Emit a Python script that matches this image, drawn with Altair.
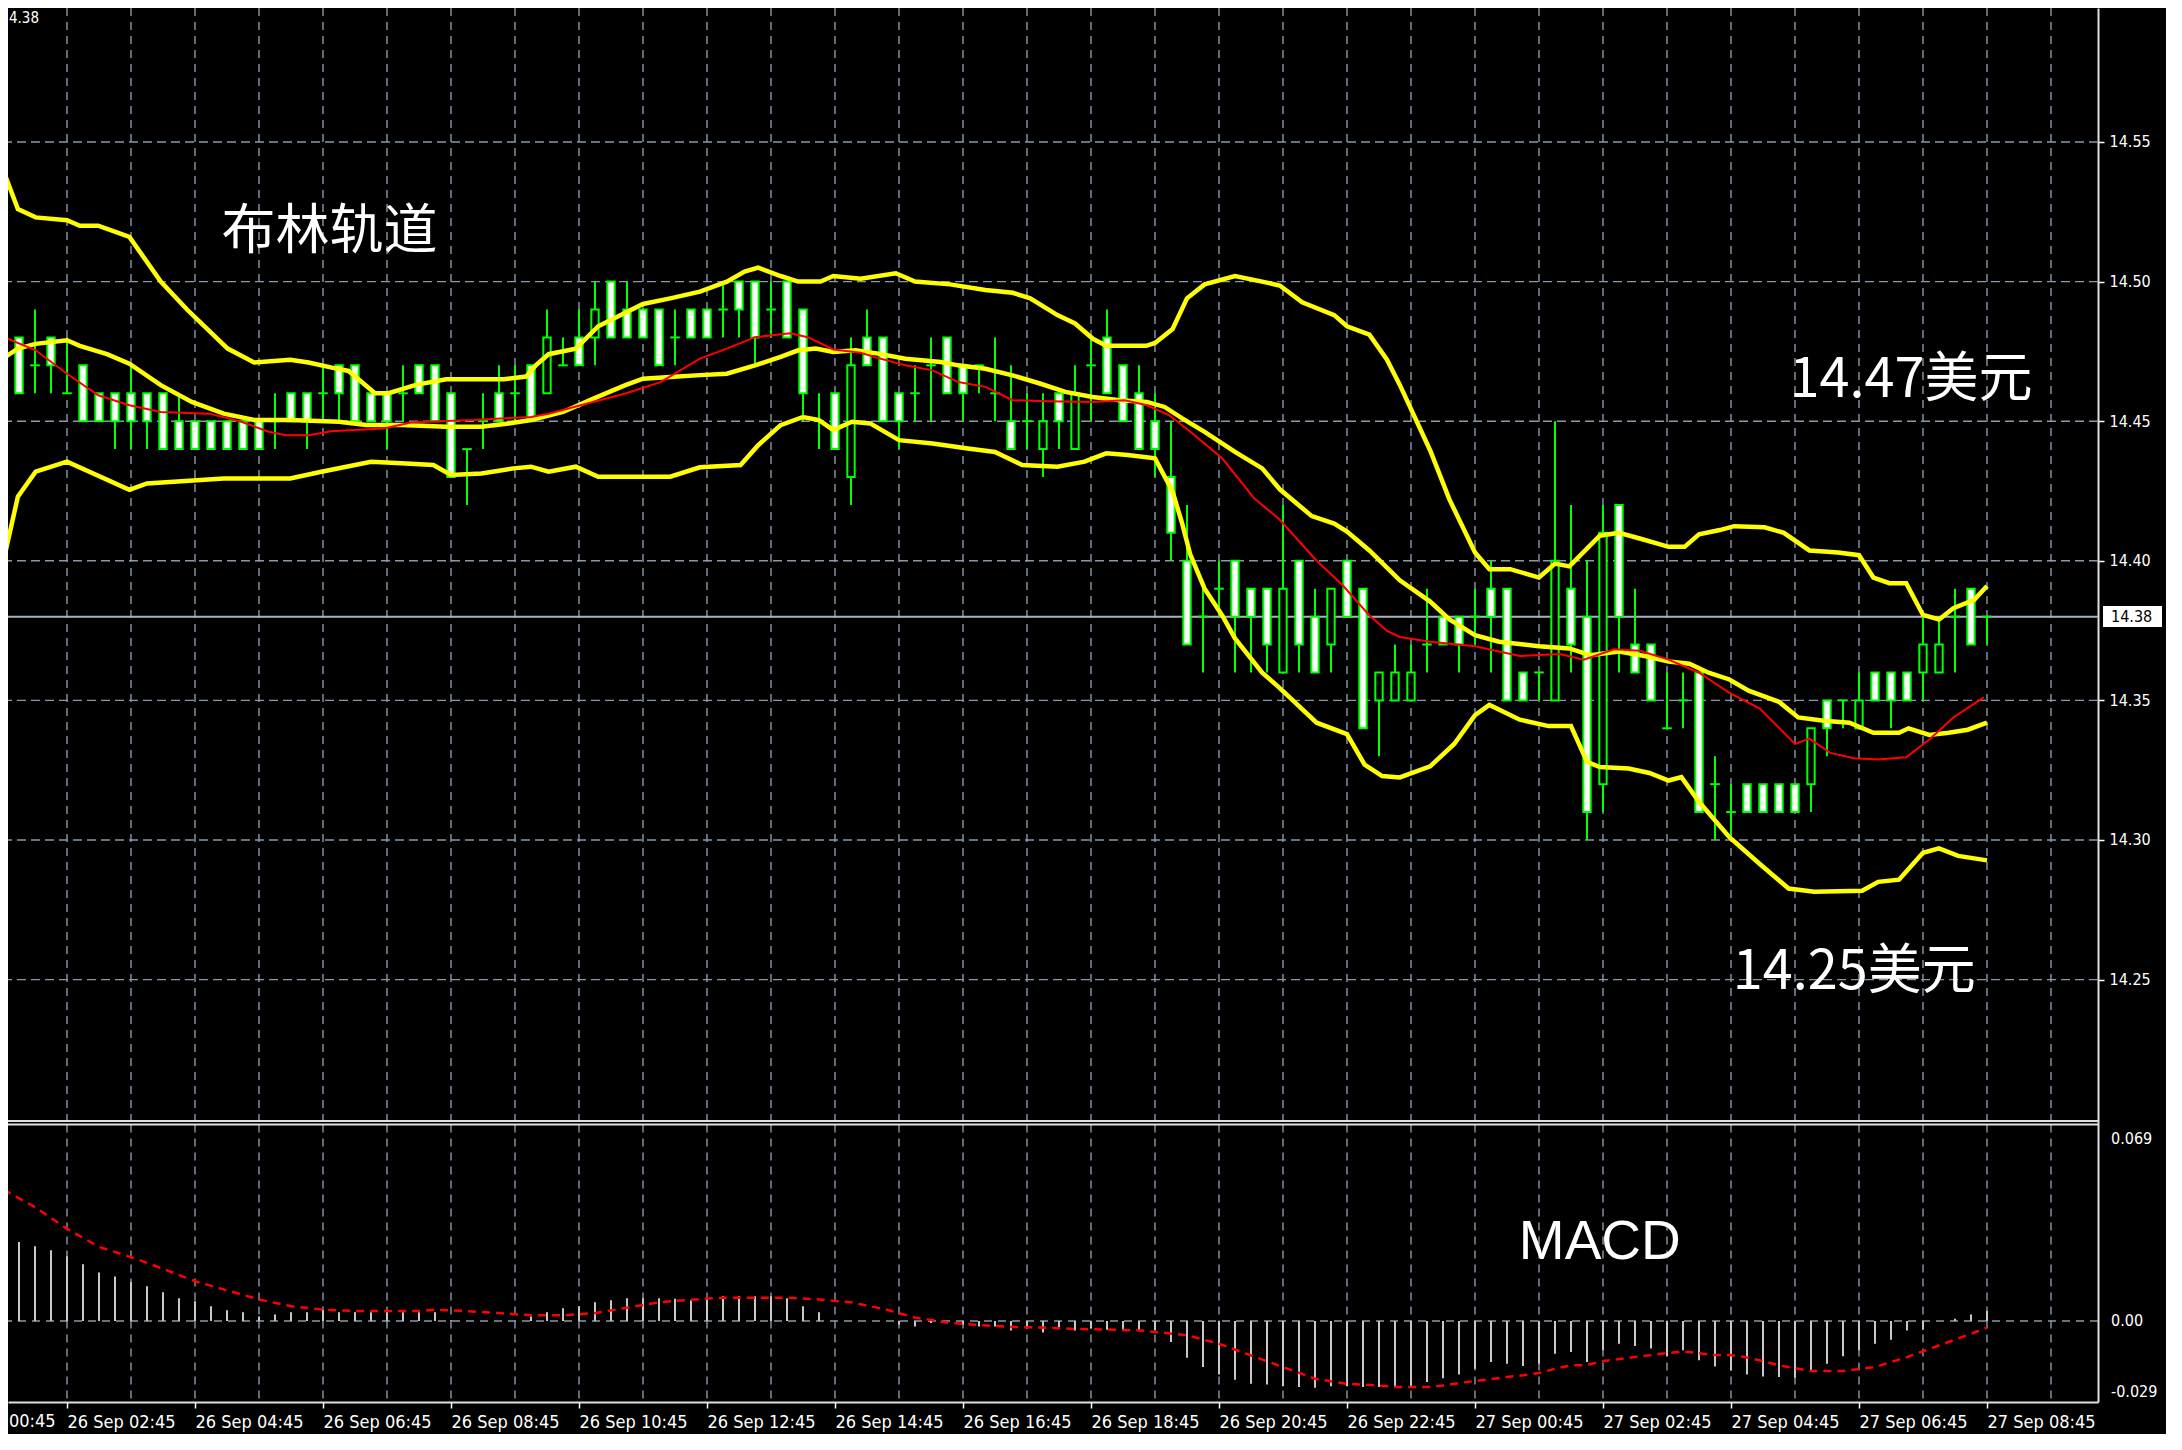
import json
import altair as alt
import pandas as pd

# ---------------- data (M15 bars, 26 Sep 01:45 -> 27 Sep 08:45) -------------
bars = list(range(125))
opens = [
    14.48, 14.48, 14.47, 14.48, 14.46, 14.47, 14.46, 14.46, 14.46, 14.46,
    14.46, 14.45, 14.45, 14.45, 14.45, 14.45, 14.45, 14.45, 14.46, 14.46,
    14.46, 14.47, 14.47, 14.46, 14.46, 14.46, 14.47, 14.47, 14.46, 14.44,
    14.45, 14.46, 14.46, 14.47, 14.46, 14.47, 14.48, 14.48, 14.50, 14.49,
    14.49, 14.49, 14.48, 14.49, 14.49, 14.49, 14.50, 14.50, 14.49, 14.50,
    14.49, 14.45, 14.46, 14.43, 14.48, 14.48, 14.46, 14.46, 14.47, 14.48,
    14.47, 14.47, 14.46, 14.45, 14.45, 14.44, 14.46, 14.44, 14.47, 14.48,
    14.47, 14.46, 14.45, 14.43, 14.40, 14.38, 14.39, 14.40, 14.39, 14.39,
    14.36, 14.40, 14.38, 14.37, 14.40, 14.39, 14.35, 14.35, 14.35, 14.37,
    14.38, 14.38, 14.38, 14.39, 14.39, 14.36, 14.36, 14.35, 14.39, 14.38,
    14.32, 14.42, 14.37, 14.37, 14.34, 14.35, 14.36, 14.32, 14.31, 14.32,
    14.32, 14.32, 14.32, 14.32, 14.35, 14.35, 14.34, 14.36, 14.36, 14.36,
    14.36, 14.36, 14.38, 14.39, 14.38]
highs = [
    14.49, 14.48, 14.49, 14.48, 14.48, 14.47, 14.46, 14.46, 14.47, 14.46,
    14.46, 14.46, 14.45, 14.45, 14.45, 14.45, 14.45, 14.46, 14.46, 14.46,
    14.47, 14.47, 14.47, 14.46, 14.46, 14.47, 14.47, 14.47, 14.46, 14.44,
    14.46, 14.47, 14.47, 14.47, 14.49, 14.48, 14.49, 14.50, 14.50, 14.50,
    14.49, 14.49, 14.49, 14.49, 14.49, 14.50, 14.50, 14.50, 14.50, 14.50,
    14.49, 14.46, 14.46, 14.48, 14.49, 14.48, 14.46, 14.47, 14.48, 14.48,
    14.47, 14.47, 14.48, 14.47, 14.46, 14.46, 14.46, 14.47, 14.48, 14.49,
    14.47, 14.47, 14.46, 14.45, 14.42, 14.39, 14.40, 14.40, 14.39, 14.39,
    14.42, 14.40, 14.39, 14.39, 14.40, 14.39, 14.36, 14.37, 14.37, 14.39,
    14.38, 14.38, 14.39, 14.40, 14.39, 14.36, 14.36, 14.45, 14.42, 14.40,
    14.42, 14.42, 14.39, 14.37, 14.36, 14.36, 14.36, 14.33, 14.32, 14.32,
    14.32, 14.32, 14.32, 14.34, 14.35, 14.35, 14.36, 14.36, 14.36, 14.36,
    14.38, 14.38, 14.39, 14.39, 14.38]
lows = [
    14.44, 14.46, 14.46, 14.46, 14.46, 14.45, 14.45, 14.44, 14.44, 14.44,
    14.44, 14.44, 14.44, 14.44, 14.44, 14.44, 14.44, 14.44, 14.45, 14.44,
    14.45, 14.45, 14.45, 14.45, 14.44, 14.45, 14.46, 14.45, 14.43, 14.42,
    14.44, 14.45, 14.45, 14.45, 14.46, 14.47, 14.47, 14.47, 14.48, 14.48,
    14.48, 14.47, 14.47, 14.48, 14.48, 14.48, 14.48, 14.47, 14.48, 14.48,
    14.45, 14.44, 14.44, 14.42, 14.47, 14.45, 14.44, 14.45, 14.45, 14.46,
    14.45, 14.46, 14.45, 14.44, 14.44, 14.43, 14.44, 14.44, 14.45, 14.46,
    14.45, 14.44, 14.43, 14.40, 14.37, 14.36, 14.38, 14.36, 14.36, 14.36,
    14.36, 14.36, 14.36, 14.36, 14.38, 14.34, 14.33, 14.35, 14.35, 14.36,
    14.37, 14.36, 14.37, 14.36, 14.35, 14.35, 14.35, 14.35, 14.36, 14.30,
    14.31, 14.36, 14.36, 14.35, 14.34, 14.34, 14.31, 14.30, 14.30, 14.31,
    14.31, 14.31, 14.31, 14.31, 14.33, 14.34, 14.34, 14.35, 14.34, 14.35,
    14.35, 14.36, 14.36, 14.37, 14.37]
closes = [
    14.45, 14.46, 14.47, 14.47, 14.46, 14.45, 14.45, 14.45, 14.45, 14.45,
    14.44, 14.44, 14.44, 14.44, 14.44, 14.44, 14.44, 14.45, 14.45, 14.45,
    14.46, 14.46, 14.45, 14.45, 14.45, 14.46, 14.46, 14.45, 14.43, 14.44,
    14.45, 14.45, 14.46, 14.45, 14.48, 14.47, 14.47, 14.49, 14.48, 14.48,
    14.48, 14.47, 14.48, 14.48, 14.48, 14.49, 14.49, 14.48, 14.49, 14.48,
    14.46, 14.45, 14.44, 14.47, 14.47, 14.45, 14.45, 14.46, 14.47, 14.46,
    14.46, 14.47, 14.46, 14.44, 14.45, 14.45, 14.45, 14.46, 14.47, 14.46,
    14.45, 14.44, 14.44, 14.41, 14.37, 14.38, 14.39, 14.38, 14.38, 14.37,
    14.39, 14.37, 14.36, 14.39, 14.38, 14.34, 14.36, 14.36, 14.36, 14.37,
    14.37, 14.37, 14.38, 14.38, 14.35, 14.35, 14.36, 14.40, 14.37, 14.31,
    14.41, 14.38, 14.36, 14.35, 14.34, 14.35, 14.31, 14.32, 14.31, 14.31,
    14.31, 14.31, 14.31, 14.34, 14.34, 14.35, 14.35, 14.35, 14.35, 14.35,
    14.37, 14.37, 14.38, 14.37, 14.38]

# Bollinger bands and red moving average, read as (bar, price) points
upper_band = [
    (-0.19, 14.543), (0.93, 14.526), (2.04, 14.523), (4.0, 14.522), (4.8, 14.520), (5.95, 14.520),
    (7.9, 14.516), (9.86, 14.500), (11.5, 14.490), (14.04, 14.476), (15.7, 14.471), (17.95, 14.472),
    (19.1, 14.471), (20.7, 14.469), (21.6, 14.468), (23.25, 14.460), (24.1, 14.460), (25.8, 14.463),
    (27.7, 14.465), (31.3, 14.465), (32.7, 14.466), (33.3, 14.470), (34.1, 14.474), (35.8, 14.476),
    (37.2, 14.484), (40.0, 14.492), (41.7, 14.494), (43.56, 14.4964), (45.24, 14.500), (46.35, 14.5036),
    (47.2, 14.505), (48.6, 14.502), (49.7, 14.500), (51.1, 14.500), (51.9, 14.502), (53.6, 14.501),
    (55.8, 14.503), (57.0, 14.500), (59.2, 14.499), (61.4, 14.497), (63.1, 14.496), (64.2, 14.494),
    (65.9, 14.488), (67.0, 14.485), (68.12, 14.4795), (68.95, 14.477), (71.46, 14.477), (72.0, 14.478),
    (73.1, 14.483), (74.0, 14.494), (75.1, 14.499), (77.0, 14.502), (78.7, 14.500), (79.8, 14.4986),
    (81.2, 14.4926), (83.2, 14.488), (84.0, 14.484), (85.4, 14.481), (86.5, 14.472), (87.3, 14.463),
    (89.2, 14.4395), (90.4, 14.422), (92.0, 14.403), (92.9, 14.397), (94.2, 14.397), (96.0, 14.394),
    (97.0, 14.399), (97.9, 14.398), (99.8, 14.409), (101.0, 14.410), (102.3, 14.408), (104.1, 14.405),
    (105.1, 14.405), (106.0, 14.4095), (107.3, 14.411), (108.2, 14.4124), (110.1, 14.412), (111.3, 14.410),
    (112.9, 14.4037), (114.7, 14.403), (116.0, 14.402), (116.9, 14.394), (117.9, 14.392), (118.95, 14.392),
    (120.0, 14.3806), (121.0, 14.379), (121.9, 14.383), (123.2, 14.386), (124.0, 14.391)]
middle_band = [
    (-0.19, 14.4718), (0.93, 14.476), (2.04, 14.4777), (4.0, 14.479), (4.8, 14.477), (6.5, 14.474),
    (7.9, 14.4706), (9.86, 14.4629), (11.8, 14.4569), (13.8, 14.4527), (15.7, 14.4504), (17.95, 14.4504),
    (21.0, 14.4498), (22.7, 14.4486), (24.9, 14.4486), (27.7, 14.448), (29.9, 14.448), (31.6, 14.4492),
    (33.0, 14.4504), (35.0, 14.4533), (36.9, 14.4581), (38.9, 14.4629), (40.0, 14.4652), (41.7, 14.4658),
    (43.56, 14.4665), (45.24, 14.467), (47.0, 14.470), (48.6, 14.473), (49.7, 14.4754), (50.8, 14.476),
    (51.9, 14.4748), (53.3, 14.4754), (54.7, 14.4742), (56.4, 14.4724), (58.6, 14.4712), (59.7, 14.470),
    (61.4, 14.4688), (63.1, 14.4664), (64.8, 14.4635), (66.4, 14.4605), (68.1, 14.4587), (69.8, 14.4575),
    (71.5, 14.4569), (72.6, 14.4551), (73.7, 14.451), (75.1, 14.4462), (77.0, 14.439), (78.7, 14.4331),
    (79.8, 14.4256), (81.8, 14.416), (83.2, 14.4133), (84.0, 14.4105), (85.4, 14.4037), (87.3, 14.3930),
    (89.2, 14.3854), (90.4, 14.379), (92.0, 14.3734), (93.5, 14.371), (96.0, 14.3694), (97.9, 14.3686),
    (99.2, 14.3662), (101.0, 14.3675), (102.6, 14.3659), (104.1, 14.3639), (105.4, 14.3631), (106.6, 14.3599),
    (107.9, 14.3575), (109.1, 14.3535), (111.0, 14.3495), (112.2, 14.3439), (113.8, 14.3427), (115.4, 14.342),
    (116.9, 14.3384), (118.5, 14.3384), (119.1, 14.340), (120.4, 14.3376), (121.6, 14.3384), (122.8, 14.3395),
    (124.0, 14.342)]
lower_band = [
    (-0.19, 14.3944), (0.93, 14.423), (2.04, 14.4319), (4.0, 14.4355), (7.9, 14.4254), (9.0, 14.4277),
    (13.8, 14.4295), (17.95, 14.4295), (19.9, 14.4319), (23.0, 14.4355), (24.9, 14.4349), (26.9, 14.4343),
    (28.0, 14.4307), (29.9, 14.4313), (31.9, 14.4331), (33.0, 14.4337), (34.1, 14.4319), (35.8, 14.4337),
    (37.2, 14.4301), (41.7, 14.4301), (43.56, 14.4335), (46.1, 14.4343), (47.2, 14.4414), (48.6, 14.4486),
    (50.0, 14.4515), (51.0, 14.4504), (51.9, 14.4468), (53.05, 14.4498), (54.2, 14.4492), (56.0, 14.4432),
    (58.1, 14.442), (60.3, 14.4402), (62.0, 14.439), (63.7, 14.4343), (65.9, 14.4337), (67.6, 14.4355),
    (68.95, 14.4385), (70.3, 14.4379), (72.0, 14.4367), (73.1, 14.4248), (73.7, 14.4133), (74.2, 14.4023),
    (75.1, 14.39), (76.2, 14.3804), (77.0, 14.3722), (78.7, 14.3599), (79.8, 14.3544), (82.1, 14.342),
    (84.0, 14.3379), (85.1, 14.327), (86.2, 14.3229), (87.3, 14.3224), (89.2, 14.3264), (90.7, 14.3344),
    (92.0, 14.3447), (92.9, 14.3484), (94.8, 14.3431), (96.6, 14.3408), (98.0, 14.3408), (99.0, 14.328),
    (99.8, 14.3261), (101.6, 14.3256), (102.9, 14.324), (104.1, 14.3213), (104.9, 14.3225), (106.0, 14.3137),
    (107.9, 14.301), (109.8, 14.2914), (111.6, 14.2826), (113.2, 14.2815), (116.2, 14.2818), (117.2, 14.285),
    (118.5, 14.2858), (120.0, 14.2954), (121.0, 14.297), (122.2, 14.2943), (124.0, 14.2927)]
red_ma = [
    (-0.19, 14.4807), (2.04, 14.4754), (4.0, 14.467), (5.95, 14.4593), (7.9, 14.4557), (9.86, 14.4533),
    (12.9, 14.4527), (14.9, 14.4498), (16.6, 14.4462), (17.7, 14.445), (19.1, 14.445), (20.5, 14.4464),
    (23.8, 14.4474), (25.5, 14.4495), (27.7, 14.4501), (29.4, 14.4504), (31.9, 14.4512), (33.0, 14.4515),
    (34.1, 14.4527), (36.1, 14.4557), (38.9, 14.4599), (41.1, 14.464), (43.56, 14.4724), (45.24, 14.476),
    (47.0, 14.4801), (49.2, 14.4815), (50.3, 14.4801), (51.9, 14.4757), (53.6, 14.4745), (54.7, 14.4726),
    (56.4, 14.470), (58.1, 14.4682), (59.7, 14.464), (61.4, 14.4623), (63.1, 14.4575), (65.3, 14.4571),
    (68.1, 14.4569), (70.1, 14.4575), (71.5, 14.4557), (72.9, 14.4521), (74.2, 14.4462), (76.2, 14.4367),
    (78.2, 14.4224), (79.8, 14.4147), (82.1, 14.400), (83.7, 14.3914), (85.4, 14.3804), (86.5, 14.3749),
    (87.3, 14.3727), (89.2, 14.371), (92.0, 14.3694), (94.8, 14.3659), (97.3, 14.3666), (98.8, 14.3646),
    (100.7, 14.3683), (102.3, 14.3678), (104.1, 14.3646), (106.0, 14.3599), (107.9, 14.3527), (109.8, 14.3471),
    (112.0, 14.3344), (112.9, 14.3363), (114.2, 14.3312), (115.7, 14.3293), (117.2, 14.3288), (118.95, 14.3296),
    (120.4, 14.336), (121.9, 14.3439), (123.8, 14.3511)]

# MACD histogram (one value per bar) and signal line points
macd_hist = [
    0.0298, 0.0278, 0.0263, 0.0249, 0.0228, 0.0200, 0.0171, 0.0157, 0.0137, 0.0122,
    0.0101, 0.0080, 0.0070, 0.0052, 0.0038, 0.0031, 0.0016, 0.0023, 0.0031, 0.0031,
    0.0038, 0.0031, 0.0031, 0.0031, 0.0031, 0.0031, 0.0031, 0.0031, 0.0003, 0.0,
    0.0, 0.0, 0.0, 0.0016, 0.0031, 0.0045, 0.0052, 0.0066, 0.0073, 0.0080,
    0.0080, 0.0080, 0.0078, 0.0073, 0.0080, 0.0087, 0.0087, 0.0087, 0.0087, 0.0080,
    0.0052, 0.0031, 0.0, 0.0, 0.0, 0.0, -0.0012, -0.0019, -0.0007, -0.0007,
    -0.0012, -0.0019, -0.0019, -0.0033, -0.0026, -0.0040, -0.0026, -0.0033, -0.0026, -0.0031,
    -0.0033, -0.0033, -0.0033, -0.0074, -0.0129, -0.0162, -0.0188, -0.0207, -0.0221, -0.0223,
    -0.0230, -0.0232, -0.0235, -0.0230, -0.0230, -0.0232, -0.0232, -0.0232, -0.0235, -0.0215,
    -0.0201, -0.0188, -0.0168, -0.0144, -0.0150, -0.0158, -0.0150, -0.0115, -0.0109, -0.0144,
    -0.0103, -0.0080, -0.0088, -0.0097, -0.0124, -0.0103, -0.0138, -0.0160, -0.0174, -0.0188,
    -0.0195, -0.0197, -0.0200, -0.0176, -0.0150, -0.0124, -0.0103, -0.0080, -0.0066, -0.0033,
    -0.0031, 0.0, 0.0008, 0.0023, 0.0035]
macd_signal = [
    (0.03, 0.0462), (2, 0.0401), (4, 0.0325), (6, 0.0261), (8, 0.0225), (10, 0.0184), (12, 0.0140),
    (14, 0.0108), (16, 0.0076), (18, 0.0052), (20, 0.0040), (22, 0.0035), (24, 0.0035), (26, 0.0035),
    (27, 0.0040), (29, 0.0035), (31, 0.0028), (33, 0.0020), (35, 0.0020), (37, 0.0028), (39, 0.0047),
    (41, 0.0066), (43, 0.0075), (45, 0.0082), (47, 0.0082), (49, 0.0082), (51, 0.0076), (53, 0.0066),
    (55, 0.0043), (56, 0.0028), (57, 0.0012), (59, -0.0005), (61, -0.0014), (63, -0.0021), (65, -0.0023),
    (67, -0.0028), (69, -0.0030), (71.1, -0.0033), (74, -0.0050), (76, -0.0080), (78, -0.0121),
    (80, -0.0162), (82, -0.0203), (84, -0.0221), (86, -0.0227), (87, -0.0232), (89, -0.0232),
    (90, -0.0227), (91, -0.0218), (92, -0.0211), (93, -0.0204), (94, -0.0197), (95, -0.0191),
    (96, -0.0183), (97, -0.0168), (98, -0.0156), (99, -0.0155), (100, -0.0141), (101, -0.0134),
    (102, -0.0127), (103, -0.0120), (104, -0.0113), (105, -0.0107), (106, -0.0113), (107, -0.0120),
    (108, -0.0120), (109, -0.0128), (110, -0.0141), (111, -0.0156), (113, -0.0176), (115, -0.0176),
    (117, -0.0162), (119, -0.0127), (121, -0.0086), (123, -0.0045), (124, -0.0023)]

# axis labels
price_ticks = [14.25, 14.30, 14.35, 14.40, 14.45, 14.50, 14.55]
macd_levels = [0.069, 0.0, -0.029]
macd_labels = ["0.069", "0.00", "-0.029"]
time_labels = ["26 Sep 00:45", "26 Sep 02:45", "26 Sep 04:45", "26 Sep 06:45", "26 Sep 08:45",
               "26 Sep 10:45", "26 Sep 12:45", "26 Sep 14:45", "26 Sep 16:45", "26 Sep 18:45",
               "26 Sep 20:45", "26 Sep 22:45", "27 Sep 00:45", "27 Sep 02:45", "27 Sep 04:45",
               "27 Sep 06:45", "27 Sep 08:45"]
label_bars = [-4 + 8 * k for k in range(len(time_labels))]
grid_bars = list(range(0, 129, 4))
cut_time_label = time_labels[0].split(" ")[-1]   # only "00:45" shows at the window edge
header_text = "4.38"                             # window header, cut at the edge in the reference

# annotations (text, bar, value)
price_notes = [("布林轨道", 20.4, 14.5174), ("14.47美元", 119.25, 14.4644), ("14.25美元", 115.7, 14.2524)]
macd_notes = [("MACD", 99.8, 0.0278)]

# ---------------- chart ----------------
W, H = 2090, 1394
X_DOM = [0.3125, 130.9375]
P_DOM = [14.09871, 14.59799]
M_DOM = [-0.0285, 0.46217]
MAIN_TOP, MAIN_BOTTOM = 14.59799, 14.19936
MACD_TOP, MACD_BOTTOM = 0.0692, -0.0285

GRID = "#8a99aa"
GREEN = "#00ff00"
YELLOW = "#ffff00"
AXIS_FONT = "DejaVu Sans Condensed"
CJK_FONT = "Noto Sans CJK SC"

xs = alt.Scale(domain=X_DOM, nice=False, zero=False)
ps = alt.Scale(domain=P_DOM, nice=False, zero=False)
ms = alt.Scale(domain=M_DOM, nice=False, zero=False)

label_expr = json.dumps(time_labels, ensure_ascii=False) + "[round((datum.value + 4) / 8)]"
x_axis = alt.Axis(orient="bottom", values=label_bars[1:], labelExpr=label_expr, labelAlign="left",
                  labelBaseline="top", labelFlush=False, labelOverlap=False, labelPadding=5,
                  labelColor="white", labelFont=AXIS_FONT, labelFontSize=18, tickColor="white",
                  tickSize=6, tickWidth=1.5, domainColor="#e0e0e0", domainWidth=2, grid=False, title=None)
price_axis = alt.Axis(orient="right", values=price_ticks, format=".2f", labelColor="white",
                      labelFont=AXIS_FONT, labelFontSize=16, labelPadding=5, labelOverlap=False,
                      labelFlush=False, tickColor="white", tickSize=6, tickWidth=1.5,
                      domainColor="#e0e0e0", domainWidth=2, grid=False, title=None)


def X(field):
    return alt.X(field, type="quantitative", scale=xs, axis=x_axis)


def PY(field, axis=None):
    return alt.Y(field, type="quantitative", scale=ps, axis=axis)


def MY(field):
    return alt.Y(field, type="quantitative", scale=ms, axis=None)


candles = pd.DataFrame({"bar": bars, "open": opens, "high": highs, "low": lows, "close": closes})
candles["top"] = candles[["open", "close"]].max(axis=1)
candles["bot"] = candles[["open", "close"]].min(axis=1)
candles["kind"] = ["bull" if c > o else ("bear" if c < o else "doji") for o, c in zip(opens, closes)]

bands_df = pd.concat([
    pd.DataFrame(upper_band, columns=["bar", "value"]).assign(band="upper"),
    pd.DataFrame(middle_band, columns=["bar", "value"]).assign(band="middle"),
    pd.DataFrame(lower_band, columns=["bar", "value"]).assign(band="lower"),
])
ma_df = pd.DataFrame(red_ma, columns=["bar", "value"])
hist_df = pd.DataFrame({"bar": bars, "value": macd_hist, "zero": 0.0})
sig_df = pd.DataFrame(macd_signal, columns=["bar", "value"])
vgrid_df = pd.DataFrame({"bar": grid_bars, "top": MAIN_TOP, "bot": MAIN_BOTTOM,
                         "mtop": MACD_TOP, "mbot": MACD_BOTTOM})
last_df = pd.DataFrame({"p": [closes[-1]]})

layers = []
# grids
layers.append(alt.Chart(pd.DataFrame({"p": price_ticks})).mark_rule(
    color=GRID, strokeWidth=1.4, strokeDash=[9, 5]).encode(y=PY("p", price_axis)))
layers.append(alt.Chart(vgrid_df).mark_rule(color=GRID, strokeWidth=1.4, strokeDash=[8, 6]).encode(
    x=X("bar"), y=PY("top"), y2="bot"))
layers.append(alt.Chart(vgrid_df).mark_rule(color=GRID, strokeWidth=1.4, strokeDash=[8, 6]).encode(
    x=X("bar"), y=MY("mtop"), y2="mbot"))
layers.append(alt.Chart(pd.DataFrame({"v": [0.0]})).mark_rule(
    color=GRID, strokeWidth=1.4, strokeDash=[8, 6]).encode(y=MY("v")))
# current price line
layers.append(alt.Chart(last_df).mark_rule(color="#a9b3be", strokeWidth=2).encode(y=PY("p")))
# panel borders
layers.append(alt.Chart(pd.DataFrame({"p": [MAIN_BOTTOM]})).mark_rule(
    color="#e0e0e0", strokeWidth=2).encode(y=PY("p")))
layers.append(alt.Chart(pd.DataFrame({"v": [MACD_TOP]})).mark_rule(
    color="#e0e0e0", strokeWidth=2).encode(y=MY("v")))

# candles
base = alt.Chart(candles)
layers.append(base.mark_rule(color=GREEN, strokeWidth=2).encode(x=X("bar"), y=PY("low"), y2="high"))
layers.append(base.transform_filter("datum.kind != 'doji'").transform_calculate(
    xl="datum.bar - 0.23", xr="datum.bar + 0.23").mark_rect(stroke=GREEN, strokeWidth=2).encode(
    x=X("xl"), x2="xr", y=PY("top"), y2="bot",
    fill=alt.Fill("kind:N", scale=alt.Scale(domain=["bear", "bull"], range=["white", "black"]), legend=None)))
layers.append(base.transform_filter("datum.kind == 'doji'").transform_calculate(
    xl="datum.bar - 0.3", xr="datum.bar + 0.3").mark_rule(color=GREEN, strokeWidth=2).encode(
    x=X("xl"), x2="xr", y=PY("open")))

# indicators
layers.append(alt.Chart(bands_df).mark_line(color=YELLOW, strokeWidth=4.5).encode(
    x=X("bar"), y=PY("value"), detail="band:N", order="bar:Q"))
layers.append(alt.Chart(ma_df).mark_line(color="#ff0000", strokeWidth=2).encode(
    x=X("bar"), y=PY("value"), order="bar:Q"))

# MACD
layers.append(alt.Chart(hist_df).mark_rule(color="#c8c8c8", strokeWidth=2).encode(
    x=X("bar"), y=MY("zero"), y2="value"))
layers.append(alt.Chart(sig_df).mark_line(color="#ff0000", strokeWidth=2.5, strokeDash=[8, 6]).encode(
    x=X("bar"), y=MY("value"), order="bar:Q"))

# annotations
layers.append(alt.Chart(pd.DataFrame(price_notes, columns=["text", "bar", "p"])).mark_text(
    font=CJK_FONT, fontSize=54, color="white", align="center", baseline="middle").encode(
    x=X("bar"), y=PY("p"), text="text:N"))
layers.append(alt.Chart(pd.DataFrame(macd_notes, columns=["text", "bar", "v"])).mark_text(
    font="Liberation Sans", fontSize=55, color="white", align="center", baseline="middle").encode(
    x=X("bar"), y=MY("v"), text="text:N"))

# MACD scale labels on the right
for lvl, lab, bl, dy in zip(macd_levels, macd_labels, ["top", "middle", "bottom"], [6, 0, -3]):
    layers.append(alt.Chart(pd.DataFrame({"v": [lvl], "t": [lab]})).mark_text(
        font=AXIS_FONT, fontSize=16, color="white", align="left", baseline=bl, dy=dy).encode(
        x=alt.value(W + 13), y=MY("v"), text="t:N"))

# current price box on the price scale
layers.append(alt.Chart(last_df).transform_calculate(
    t="datum.p + 0.0038", b="datum.p - 0.0037").mark_rect(fill="white").encode(
    x=alt.value(W + 5), x2=alt.value(W + 64), y=PY("t"), y2="b"))
layers.append(alt.Chart(last_df).mark_text(
    font=AXIS_FONT, fontSize=16, color="black", align="left", baseline="middle").encode(
    x=alt.value(W + 13), y=PY("p"), text=alt.Text("p:Q", format=".2f")))
# window header price at the top-left corner
layers.append(alt.Chart(pd.DataFrame({"t": [header_text]})).mark_text(
    font=AXIS_FONT, fontSize=15, color="white", align="left", baseline="middle").encode(
    x=alt.value(1), y=alt.value(10), text="t:N"))
# first time label, only its time part is visible at the left edge
layers.append(alt.Chart(pd.DataFrame({"t": [cut_time_label]})).mark_text(
    font=AXIS_FONT, fontSize=18, color="white", align="left", baseline="top").encode(
    x=alt.value(1), y=alt.value(H + 11), text="t:N"))

chart = alt.layer(*layers).resolve_scale(y="independent").properties(
    width=W, height=H,
    autosize=alt.AutoSizeParams(type="none"),
    padding={"left": 0, "top": 0, "right": 68, "bottom": 32},
).configure(background="#000000").configure_view(strokeWidth=0)

chart.save("out.html", embed_options={"renderer": "svg", "actions": False})
